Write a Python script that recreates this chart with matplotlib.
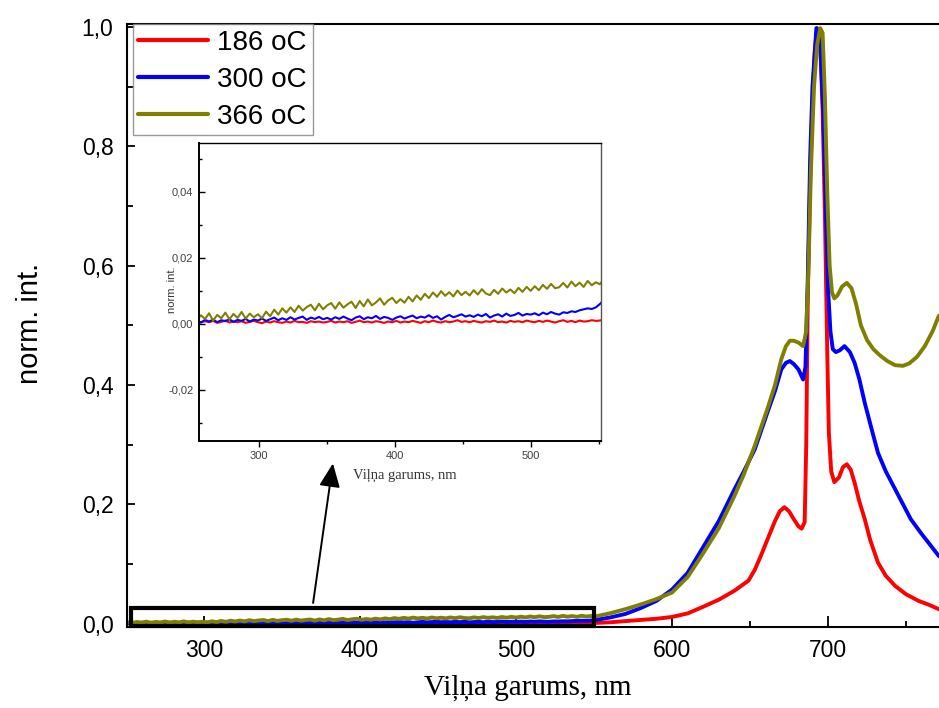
import numpy as np
import matplotlib
matplotlib.use("Agg")
import matplotlib.pyplot as plt
from matplotlib.ticker import MultipleLocator, FuncFormatter
from matplotlib.patches import Rectangle, FancyArrowPatch

# ---------------- data ----------------
series_labels = ["186 oC", "300 oC", "366 oC"]
series_colors = ["#ff0000", "#0000ff", "#808000"]

# baseline region (250-550 nm), sampled every 3 nm
base_wl = np.arange(251, 549, 3)

red_base = [
    0.0003, 0.0007, 0.0004, 0.0008, 0.0005, 0.0009, 0.0003, 0.0006, 0.0010, 0.0004, 0.0007, 0.0005, 0.0008, 0.0003, 0.0006, 0.0009, 0.0005,
    0.0002, 0.0007, 0.0004, 0.0008, 0.0005, 0.0003, 0.0007, 0.0004, 0.0009, 0.0005, 0.0006, 0.0003, 0.0008, 0.0005, 0.0007, 0.0004, 0.0006,
    0.0009, 0.0004, 0.0007, 0.0005, 0.0008, 0.0003, 0.0006, 0.0010, 0.0005, 0.0007, 0.0004, 0.0008, 0.0006, 0.0003, 0.0007, 0.0005, 0.0009,
    0.0004, 0.0007, 0.0005, 0.0009, 0.0006, 0.0003, 0.0008, 0.0005, 0.0010, 0.0006, 0.0004, 0.0008, 0.0005, 0.0007, 0.0011, 0.0006, 0.0008,
    0.0005, 0.0009, 0.0006, 0.0004, 0.0008, 0.0006, 0.0010, 0.0005, 0.0007, 0.0004, 0.0009, 0.0006, 0.0008, 0.0005, 0.0010, 0.0007,
    0.0005, 0.0009, 0.0006, 0.0010, 0.0007, 0.0004, 0.0008, 0.0011, 0.0006, 0.0009, 0.0005, 0.0010, 0.0007, 0.0008, 0.0011, 0.0009,
]
blue_base = [
    0.0006, 0.0010, 0.0004, 0.0012, 0.0007, 0.0013, 0.0005, 0.0011, 0.0008, 0.0014, 0.0006, 0.0012, 0.0009, 0.0015, 0.0007, 0.0013, 0.0010,
    0.0016, 0.0009, 0.0014, 0.0019, 0.0011, 0.0017, 0.0012, 0.0020, 0.0013, 0.0018, 0.0022, 0.0012, 0.0019, 0.0015, 0.0021, 0.0014, 0.0018,
    0.0013, 0.0020, 0.0015, 0.0022, 0.0016, 0.0011, 0.0019, 0.0023, 0.0014, 0.0020, 0.0017, 0.0024, 0.0015, 0.0021, 0.0018, 0.0012, 0.0019,
    0.0023, 0.0016, 0.0021, 0.0025, 0.0017, 0.0022, 0.0019, 0.0026, 0.0018, 0.0023, 0.0013, 0.0021, 0.0027, 0.0020, 0.0024, 0.0029, 0.0022,
    0.0026, 0.0021, 0.0028, 0.0023, 0.0030, 0.0019, 0.0025, 0.0029, 0.0022, 0.0031, 0.0024, 0.0027, 0.0033, 0.0025, 0.0030, 0.0028,
    0.0032, 0.0026, 0.0034, 0.0029, 0.0036, 0.0031, 0.0028, 0.0035, 0.0033, 0.0038, 0.0036, 0.0041, 0.0044, 0.0047, 0.0045, 0.0050,
]
olive_base = [
    0.0021, 0.0011, 0.0026, 0.0015, 0.0032, 0.0010, 0.0027, 0.0017, 0.0034, 0.0014, 0.0030, 0.0018, 0.0036, 0.0016, 0.0031, 0.0020, 0.0029,
    0.0017, 0.0037, 0.0023, 0.0043, 0.0028, 0.0047, 0.0034, 0.0050, 0.0036, 0.0055, 0.0040, 0.0051, 0.0058, 0.0041, 0.0061, 0.0044, 0.0056,
    0.0063, 0.0046, 0.0065, 0.0049, 0.0059, 0.0067, 0.0048, 0.0069, 0.0053, 0.0074, 0.0056, 0.0065, 0.0077, 0.0058, 0.0071, 0.0079, 0.0063,
    0.0075, 0.0064, 0.0082, 0.0068, 0.0086, 0.0073, 0.0091, 0.0078, 0.0095, 0.0082, 0.0099, 0.0085, 0.0096, 0.0083, 0.0101, 0.0087, 0.0097,
    0.0086, 0.0102, 0.0089, 0.0105, 0.0092, 0.0087, 0.0103, 0.0091, 0.0107, 0.0095, 0.0104, 0.0093, 0.0109, 0.0097, 0.0112, 0.0100,
    0.0114, 0.0102, 0.0118, 0.0106, 0.0121, 0.0108, 0.0111, 0.0124, 0.0110, 0.0128, 0.0114, 0.0125, 0.0112, 0.0130, 0.0117, 0.0126,
]

# emission band region (> 550 nm)
red_wl = [551, 560, 575, 590, 600, 610, 619, 630, 640, 649, 653, 657, 661, 666, 669,
          672, 675, 678, 681, 683, 685, 686, 687, 688.5, 690, 691.5, 693, 695, 696.5, 698,
          699.5, 700.5, 702, 704, 707, 709.5, 712, 714.5, 717, 720, 723.5, 727, 732, 737, 743,
          750, 758, 765, 771]
red_int = [0.001, 0.002, 0.005, 0.008, 0.011, 0.017, 0.027, 0.040, 0.055, 0.072, 0.090, 0.114, 0.140, 0.172, 0.188,
           0.195, 0.188, 0.175, 0.163, 0.159, 0.170, 0.30, 0.55, 0.74, 0.87, 0.96, 0.998, 0.97, 0.86, 0.68,
           0.45, 0.32, 0.255, 0.237, 0.245, 0.262, 0.267, 0.258, 0.236, 0.205, 0.175, 0.140, 0.102, 0.080, 0.063,
           0.049, 0.038, 0.031, 0.024]

blue_wl = [551, 560, 570, 580, 590, 600, 610, 619, 630, 640, 646, 653, 661, 666, 670,
           673, 675.5, 678, 681, 684, 685.5, 687, 688.5, 690, 692.5, 695, 697, 698.5, 700, 701.5,
           703, 705, 707.5, 710.5, 714, 717, 720, 723.5, 728, 732, 737, 743, 748, 753, 760, 766, 771]
blue_int = [0.006, 0.010, 0.016, 0.026, 0.038, 0.057, 0.085, 0.124, 0.172, 0.225, 0.255, 0.292, 0.353, 0.39, 0.426,
            0.437, 0.44, 0.435, 0.426, 0.409, 0.43, 0.58, 0.78, 0.90, 0.998, 0.97, 0.85, 0.70, 0.56, 0.49,
            0.46, 0.455, 0.458, 0.465, 0.455, 0.437, 0.41, 0.37, 0.325, 0.286, 0.255, 0.225, 0.20, 0.175, 0.15, 0.13, 0.113]

olive_wl = [551, 560, 570, 580, 590, 600, 610, 619, 630, 640, 646, 653, 661, 666, 670,
            673, 675.5, 678, 681, 684, 686, 687.5, 689, 691, 693, 695, 696.5, 698, 699.5, 701,
            702.5, 704, 706, 709, 712, 715, 718, 721, 725, 729, 733, 738, 743, 748, 752,
            757, 762, 767, 771]
olive_int = [0.012, 0.017, 0.024, 0.032, 0.041, 0.052, 0.078, 0.114, 0.16, 0.214, 0.25, 0.298, 0.359, 0.40, 0.443,
             0.465, 0.474, 0.474, 0.471, 0.465, 0.49, 0.60, 0.76, 0.90, 0.97, 0.998, 0.99, 0.88, 0.72, 0.60,
             0.555, 0.545, 0.55, 0.565, 0.571, 0.562, 0.535, 0.50, 0.475, 0.46, 0.45, 0.44, 0.433, 0.432, 0.436,
             0.447, 0.465, 0.49, 0.516]

x_ticks_main = [300, 400, 500, 600, 700]
y_ticks_main = [0.0, 0.2, 0.4, 0.6, 0.8, 1.0]
x_ticks_inset = [300, 400, 500]
y_ticks_inset = [-0.02, 0.00, 0.02, 0.04]

xlabel_text = "Viļņa garums, nm"
ylabel_text = "norm. int."

# ---------------- assemble series ----------------
wl = [np.concatenate([base_wl, np.array(w)]) for w in (red_wl, blue_wl, olive_wl)]
inten = [np.concatenate([np.array(b), np.array(p)])
         for b, p in ((red_base, red_int), (blue_base, blue_int), (olive_base, olive_int))]

SANS = "Liberation Sans"
SERIF = "Liberation Serif"

W, H = 939, 708
fig = plt.figure(figsize=(W / 100, H / 100), dpi=100)

def fx(px):
    return px / W

def fy(py):
    return 1 - py / H

# ---------------- main axes ----------------
ax_l, ax_r, ax_t, ax_b = 127.3, 939, 24, 626.5
ax = fig.add_axes([fx(ax_l), fy(ax_b), fx(ax_r - ax_l), (ax_b - ax_t) / H])
for x, y, c, lab in zip(wl, inten, series_colors, series_labels):
    ax.plot(x, y, color=c, lw=2.8, label=lab, solid_capstyle="round")

ax.set_xlim(250.8, 771.1)
ax.set_ylim(-0.005, 1.005)
ax.spines["right"].set_visible(False)
for s in ("left", "bottom", "top"):
    ax.spines[s].set_linewidth(1.5)
ax.set_xticks(x_ticks_main)
ax.set_yticks(y_ticks_main)
ax.xaxis.set_minor_locator(MultipleLocator(50))
ax.yaxis.set_minor_locator(MultipleLocator(0.1))
ax.yaxis.set_major_formatter(FuncFormatter(lambda v, p: f"{v:.1f}".replace(".", ",")))
ax.tick_params(which="both", direction="in", top=False, right=False, width=1.3)
ax.tick_params(axis="x", which="major", length=8, pad=9, labelsize=16.5)
ax.tick_params(axis="x", which="minor", length=4)
ax.tick_params(axis="y", which="major", length=6, pad=10, labelsize=16.5)
ax.tick_params(axis="y", which="minor", length=4)
for t in ax.get_xticklabels() + ax.get_yticklabels():
    t.set_fontfamily(SANS)

leg = ax.legend(loc="upper left", bbox_to_anchor=(0.0067, 1.0), borderaxespad=0,
                prop={"family": SANS, "size": 20}, frameon=True, fancybox=False,
                edgecolor="#808080", handlelength=2.5, handletextpad=0.35,
                labelspacing=0.4, borderpad=0.2)
leg.get_frame().set_linewidth(1.0)
for line in leg.get_lines():
    line.set_linewidth(3.0)

fig.text(fx(528), fy(688), xlabel_text, family=SERIF, fontsize=21, ha="center", va="center")
fig.text(fx(30), fy(323), ylabel_text, family=SANS, fontsize=21, ha="center", va="center", rotation=90)

# zoom rectangle and arrow
ax.add_patch(Rectangle((253, -0.004), 297, 0.03, fill=False, edgecolor="black", lw=3.0, zorder=5, clip_on=False))
fig.patches.append(FancyArrowPatch(
    (fx(312.7), fy(605.7)), (fx(333.3), fy(460.7)), transform=fig.transFigure,
    arrowstyle="-|>,head_length=9,head_width=4", color="black", lw=1.4, mutation_scale=1.6))

# ---------------- inset ----------------
in_l, in_r, in_t, in_b = 199, 601, 143, 441
axi = fig.add_axes([fx(in_l), fy(in_b), fx(in_r - in_l), (in_b - in_t) / H])
for x, y, c in zip(wl, inten, series_colors):
    axi.plot(x, y, color=c, lw=1.5)
axi.set_xlim(255.6, 551.8)
axi.set_ylim(-0.0355, 0.0548)
axi.set_xticks(x_ticks_inset)
axi.set_yticks(y_ticks_inset)
axi.xaxis.set_minor_locator(MultipleLocator(50))
axi.yaxis.set_minor_locator(MultipleLocator(0.01))
axi.yaxis.set_major_formatter(FuncFormatter(
    lambda v, p: ("0,00" if abs(v) < 1e-9 else f"{v:.2f}".replace(".", ","))))
axi.tick_params(axis="x", which="major", direction="out", length=4.5, width=1.0, pad=3,
                labelsize=8, labelcolor="#404040")
axi.tick_params(axis="x", which="minor", direction="out", length=2.5, width=1.0)
axi.tick_params(axis="y", which="major", direction="in", length=4.5, width=1.0, pad=4,
                labelsize=8, labelcolor="#404040")
axi.tick_params(axis="y", which="minor", direction="in", length=2.5, width=1.0)
for t in axi.get_xticklabels() + axi.get_yticklabels():
    t.set_fontfamily(SANS)
axi.spines["left"].set_linewidth(1.4)
axi.spines["bottom"].set_linewidth(1.4)
axi.spines["top"].set_linewidth(1.0)
axi.spines["right"].set_linewidth(1.0)
axi.spines["right"].set_color("#555555")

fig.text(fx(404.7), fy(475), xlabel_text, family=SERIF, fontsize=10.5, ha="center", va="center", color="#333333")
fig.text(fx(172), fy(290), ylabel_text, family=SANS, fontsize=8, ha="center", va="center", rotation=90, color="#333333")

fig.savefig("out.png", dpi=100)
